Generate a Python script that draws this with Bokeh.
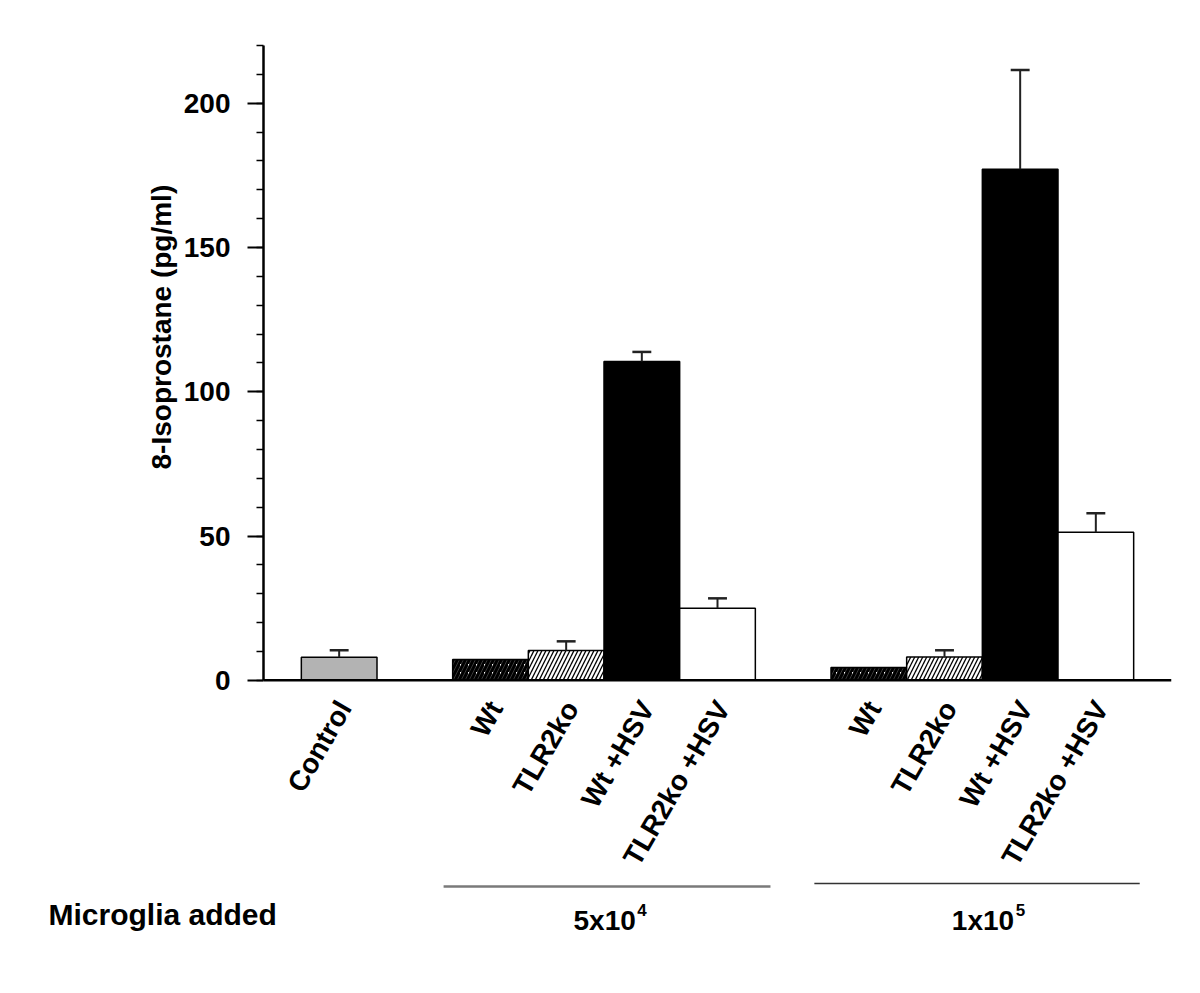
import math
from bokeh.plotting import figure
from bokeh.layouts import row, column
from bokeh.models import Range1d, FixedTicker, Span
from bokeh.core.properties import value
from bokeh.embed import file_html
from bokeh.resources import INLINE

# ---------------- data ----------------
control_label = "Control"
treatments = ["Wt", "TLR2ko", "Wt +HSV", "TLR2ko +HSV"]
dose_base = ["5x10", "1x10"]
dose_exp = ["4", "5"]
group_title = "Microglia added"
y_title = "8-Isoprostane (pg/ml)"

control_mean = [8.0]
control_err = [2.4]
mean_5e4 = [7.2, 10.3, 110.5, 25.0]
err_5e4 = [0.0, 3.2, 3.3, 3.4]
mean_1e5 = [4.4, 8.1, 177.1, 51.3]
err_1e5 = [0.0, 2.3, 34.4, 6.6]

y_major = [0, 50, 100, 150, 200]
y_minor = list(range(0, 221, 10))

# ---------------- layout ----------------
FONT = value("Liberation Sans")
W = 1184
Y_TOP = 220
Y_BOTTOM = -68
SIDE_W = 180          # width of the left text panel
LEFT = 263            # x of the y axis
RIGHT = 13
TOP = 45
H1 = 876              # height of the chart row
H2 = 101              # height of the "Microglia added" row
X_END = 12

yr = Range1d(Y_BOTTOM, Y_TOP)

# left panel holding the y title
side = figure(width=SIDE_W, height=H1, output_backend="svg", toolbar_location=None,
              x_range=Range1d(0, SIDE_W), y_range=yr,
              min_border_left=0, min_border_right=0, min_border_top=TOP,
              min_border_bottom=0, x_axis_location=None, y_axis_location=None)
side.outline_line_color = None
side.grid.visible = False
side.text(x=[161], y=[122.4], text=[y_title], angle=math.pi / 2, text_align="center",
          text_baseline="middle", text_font=FONT, text_font_style="bold",
          text_font_size="28px", text_color="black")

p = figure(width=W - SIDE_W, height=H1, output_backend="svg", toolbar_location=None,
           x_range=Range1d(0, X_END), y_range=yr,
           min_border_left=LEFT - SIDE_W, min_border_right=RIGHT, min_border_top=TOP,
           min_border_bottom=0, x_axis_location=None)
p.outline_line_color = None
p.grid.visible = False
p.background_fill_color = "white"

ya = p.yaxis[0]
ya.bounds = (0, Y_TOP)
ya.ticker = FixedTicker(ticks=y_major, minor_ticks=y_minor)
ya.axis_line_width = 2.5
ya.axis_line_color = "black"
ya.major_tick_line_width = 2
ya.major_tick_line_color = "black"
ya.major_tick_in = 0
ya.major_tick_out = 16
ya.minor_tick_line_width = 1.5
ya.minor_tick_line_color = "black"
ya.minor_tick_in = 0
ya.minor_tick_out = 7
ya.major_label_standoff = 17
ya.major_label_text_font = "Liberation Sans"
ya.major_label_text_font_style = "bold"
ya.major_label_text_font_size = "28px"
ya.major_label_text_color = "black"

# x axis line at zero
p.add_layout(Span(location=0, dimension="width", line_color="black", line_width=2.5))

# positions of bars (layout)
ctrl_x = [1.0]
g_start = [3.0, 8.0]
xs1 = [g_start[0] + i for i in range(len(treatments))]
xs2 = [g_start[1] + i for i in range(len(treatments))]

styles = [
    dict(fill_color="white", hatch_pattern="/", hatch_color="black", hatch_weight=3.4, hatch_scale=8),
    dict(fill_color="white", hatch_pattern="/", hatch_color="black", hatch_weight=1.3, hatch_scale=8),
    dict(fill_color="black"),
    dict(fill_color="white"),
]

p.vbar(x=ctrl_x, top=control_mean, width=1.0, bottom=0, fill_color="#b3b3b3",
       line_color="black", line_width=1.5)

for xs, means in ((xs1, mean_5e4), (xs2, mean_1e5)):
    for i, st in enumerate(styles):
        p.vbar(x=[xs[i]], top=[means[i]], width=1.0, bottom=0,
               line_color="black", line_width=1.5, **st)

# error bars (upper only)
all_x = ctrl_x + xs1 + xs2
all_m = control_mean + mean_5e4 + mean_1e5
all_e = control_err + err_5e4 + err_1e5
ex = [x for x, e in zip(all_x, all_e) if e > 0]
em = [m for m, e in zip(all_m, all_e) if e > 0]
eu = [m + e for m, e in zip(all_m, all_e) if e > 0]
cap = 0.125
p.segment(x0=ex, y0=em, x1=ex, y1=eu, line_color="#222222", line_width=2)
p.segment(x0=[x - cap for x in ex], y0=eu, x1=[x + cap for x in ex], y1=eu,
          line_color="#222222", line_width=2.5)

# rotated category labels
lab_x = [x + 0.07 for x in all_x]
lab_y = [-8.0] * len(all_x)
lab_t = [control_label] + treatments + treatments
p.text(x=lab_x, y=lab_y, text=lab_t, angle=math.pi / 3, text_align="right",
       text_baseline="middle", text_font=FONT, text_font_style="bold",
       text_font_size="28px", text_color="black")

# ---------------- bottom row: group lines, doses, row title ----------------
ppu = (W - LEFT - RIGHT) / X_END
bottom = figure(width=W, height=H2, output_backend="svg", toolbar_location=None,
                x_range=Range1d(-LEFT / ppu, X_END + RIGHT / ppu),
                y_range=Range1d(H2, 0),
                min_border_left=0, min_border_right=0, min_border_top=0,
                min_border_bottom=0, x_axis_location=None, y_axis_location=None)
bottom.outline_line_color = None
bottom.grid.visible = False

gc = [sum(xs1) / len(xs1), sum(xs2) / len(xs2)]
line_lo = [2.12, 2.22]
line_hi = [2.2, 2.08]
line_y = [10, 7]
line_col = ["#7a7a7a", "#333333"]
line_w = [2.5, 1.5]
for k in range(2):
    bottom.segment(x0=[gc[k] - line_lo[k]], y0=[line_y[k]], x1=[gc[k] + line_hi[k]],
                   y1=[line_y[k]], line_color=line_col[k], line_width=line_w[k])
bottom.text(x=[c + 0.42 for c in gc], y=[44, 44], text=dose_base, text_align="right",
            text_baseline="middle", text_font=FONT, text_font_style="bold",
            text_font_size="28px", text_color="black")
bottom.text(x=[c + 0.44 for c in gc], y=[33, 33], text=dose_exp, text_align="left",
            text_baseline="middle", text_font=FONT, text_font_style="bold",
            text_font_size="17px", text_color="black")
bottom.text(x=[(48 - LEFT) / ppu], y=[38], text=[group_title], text_align="left",
            text_baseline="middle", text_font=FONT, text_font_style="bold",
            text_font_size="30px", text_color="black")

layout = column(row(side, p), bottom)
open("out.html", "w").write(file_html(layout, INLINE))
